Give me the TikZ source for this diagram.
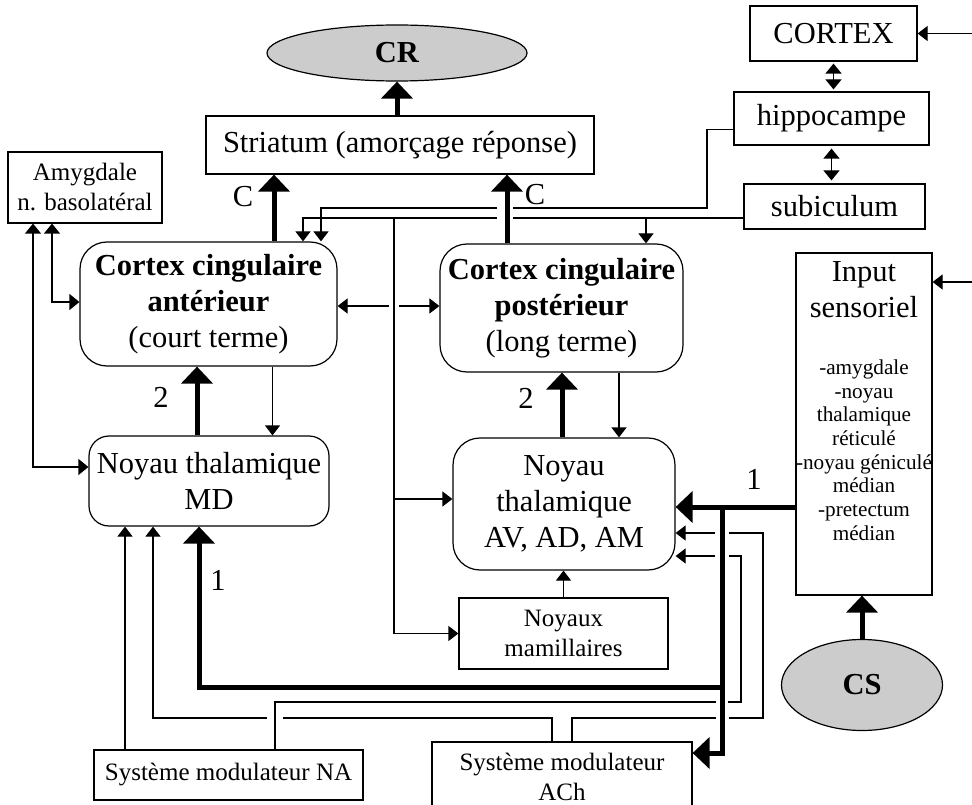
\documentclass[tikz,border=0pt]{standalone}
\usepackage{fontspec}
\setmainfont{Liberation Serif}
\usetikzlibrary{arrows.meta,shapes.geometric}

\newcommand\bigtxt{\fontsize{30.5}{36}\selectfont}
\newcommand\midtxt{\fontsize{25}{30}\selectfont}
\newcommand\smalltxt{\fontsize{21.2}{23.7}\selectfont}

\tikzset{
  plainbox/.style={draw, line width=1.2pt, inner sep=1pt, align=center, font=\bigtxt},
  roundbox/.style={plainbox, rounded corners=27pt},
  oval/.style={draw, ellipse, line width=1.2pt, fill=black!20, inner sep=0pt, font=\bigtxt\bfseries},
  tag/.style={font=\bigtxt, inner sep=0pt},
  wire/.style={line width=1.2pt},
  wirearr/.style={wire, -{Triangle[length=10pt,width=15pt]}},
  biarr/.style={wire, {Triangle[length=10pt,width=16pt]}-{Triangle[length=10pt,width=16pt]}},
  fatarr/.style={line width=5pt, -{Triangle[length=17pt,width=31pt]}}
}

\begin{document}
\begin{tikzpicture}[x=1pt,y=-1pt]
\useasboundingbox (0,0) rectangle (972,805);
\clip (0,0) rectangle (972,805);

\node[oval, minimum width=260pt, minimum height=56pt] (cr) at (397,53) {CR};
\node[plainbox, minimum width=388pt, minimum height=58pt] (striatum) at (400,145) {Striatum (amorçage réponse)};
\node[plainbox, minimum width=167pt, minimum height=55pt] (cortex) at (833.5,33.5) {CORTEX};
\node[plainbox, minimum width=195pt, minimum height=53pt] (hippo) at (831.5,118.5) {hippocampe};
\node[plainbox, minimum width=181pt, minimum height=45pt] (subic) at (834.5,206.5) {subiculum};
\node[plainbox, font=\midtxt, minimum width=154pt, minimum height=71pt] (amyg) at (85,187.5) {Amygdale\\n. basolatéral};

\node[roundbox, minimum width=257pt, minimum height=124pt] (ant) at (208.5,304) {\textbf{Cortex cingulaire}\\\textbf{antérieur}\\(court terme)};
\node[roundbox, minimum width=243pt, minimum height=128pt] (post) at (561.5,308) {\textbf{Cortex cingulaire}\\\textbf{postérieur}\\(long terme)};
\node[roundbox, rounded corners=20pt, minimum width=240pt, minimum height=90pt] (md) at (209,481) {Noyau thalamique\\MD};
\node[roundbox, minimum width=222pt, minimum height=132pt] (av) at (564,504) {Noyau\\thalamique\\AV, AD, AM};
\node[plainbox, font=\midtxt, minimum width=209pt, minimum height=71pt] (mam) at (563.5,633.5) {Noyaux\\mamillaires};

\node[plainbox, minimum width=136pt, minimum height=342pt] (input) at (864,424) {};
\node[tag, align=center] (inputtitle) at (864,290) {Input\\sensoriel};
\node[tag, align=center, font=\smalltxt] (inputlist) at (864,450) {-amygdale\\-noyau\\thalamique\\réticulé\\-noyau géniculé\\médian\\-pretectum\\médian};
\node[oval, minimum width=161pt, minimum height=91pt] (cs) at (862,685) {CS};

\node[plainbox, font=\midtxt, minimum width=269pt, minimum height=50pt] (na) at (228.5,775) {Système modulateur NA};
\node[plainbox, font=\midtxt, minimum width=260pt, minimum height=70pt] (ach) at (562,777) {Système modulateur\\ACh};

\draw[fatarr] (striatum.north -| cr.south) -- (cr.south);
\draw[fatarr] ([xshift=65.5pt]ant.north) -- ([xshift=65.5pt]ant.north |- striatum.south);
\draw[fatarr] ([xshift=-54.5pt]post.north) -- ([xshift=-54.5pt]post.north |- striatum.south);
\node[tag] (c1) at (243,197) {C};
\node[tag] (c2) at (535,195) {C};

\draw[fatarr] ([xshift=-12pt]md.north) -- ([xshift=-12pt]md.north |- ant.south);
\draw[wirearr] ([xshift=64pt]ant.south) -- ([xshift=64pt]ant.south |- md.north);
\node[tag] (two1) at (161,397) {2};
\draw[fatarr] ([xshift=-2pt]av.north) -- ([xshift=-2pt]av.north |- post.south);
\draw[wirearr] ([xshift=57.5pt]post.south) -- ([xshift=57.5pt]post.south |- av.north);
\node[tag] (two2) at (526,398) {2};
\draw[wirearr] (mam.north) -- (mam.north |- av.south);
\draw[fatarr] (cs.north) -- (cs.north |- input.south);

\draw[biarr, shorten <=2pt, shorten >=2pt] (cortex.south) -- (cortex.south |- hippo.north);
\draw[biarr, shorten <=3pt, shorten >=3pt] (hippo.south) -- (hippo.south |- subic.north);
\coordinate (edge1) at (975,33.5);
\coordinate (edge2) at (975,282);
\draw[wirearr] (edge1) -- (cortex.east);
\draw[wirearr] (edge2) -- (edge2 -| input.east);

\draw[wire] ([yshift=-11pt]hippo.west) -| (707,208) -- (513,208);
\draw[wirearr] (497,208) -| ([xshift=112.5pt]ant.north);
\draw[wire] ([yshift=-11.5pt]subic.west) -- (513,218);
\draw[wirearr] (497,218) -| ([xshift=94.5pt]ant.north);
\draw[wirearr] (646,218) -- ([xshift=84.5pt]post.north);
\draw[wirearr] (394,218) |- (mam.west);
\draw[wirearr] (394,499) -- (av.west |- 0,499);
\draw[wirearr] (389,306) -- (ant.east |- 0,306);
\draw[wirearr] (399,306) -- (post.west |- 0,306);

\draw[biarr] ([xshift=-52pt]amyg.south) |- ([yshift=14pt]md.west);
\draw[biarr] ([xshift=-33pt]amyg.south) |- ([yshift=2pt]ant.west);

\draw[wirearr] ([xshift=-103.5pt]na.north) -- ([xshift=-103.5pt]na.north |- md.south);
\draw[wire] ([xshift=-10pt]ach.north) |- (283,718);
\draw[wirearr] (267,718) -| ([xshift=-56pt]md.south);
\draw[wire] ([xshift=46.5pt]na.north) |- (716,702);
\draw[wire] (728,702) -| (741,556) -- (729,556);
\draw[wirearr] (715,556) -- (av.east |- 0,556);
\draw[wire] ([xshift=10pt]ach.north) |- (716,718);
\draw[wire] (729,718) -| (763,533) -- (729,533);
\draw[wirearr] (715,533) -- (av.east |- 0,533);

\draw[fatarr] (input.west |- 0,507) -- (av.east |- 0,507);
\draw[fatarr] (722,507) |- ([yshift=24pt]ach.east);
\draw[fatarr] (722,687) -| ([xshift=-10pt]md.south);
\node[tag] (one1) at (754,479) {1};
\node[tag] (one2) at (218,580) {1};
\end{tikzpicture}
\end{document}
